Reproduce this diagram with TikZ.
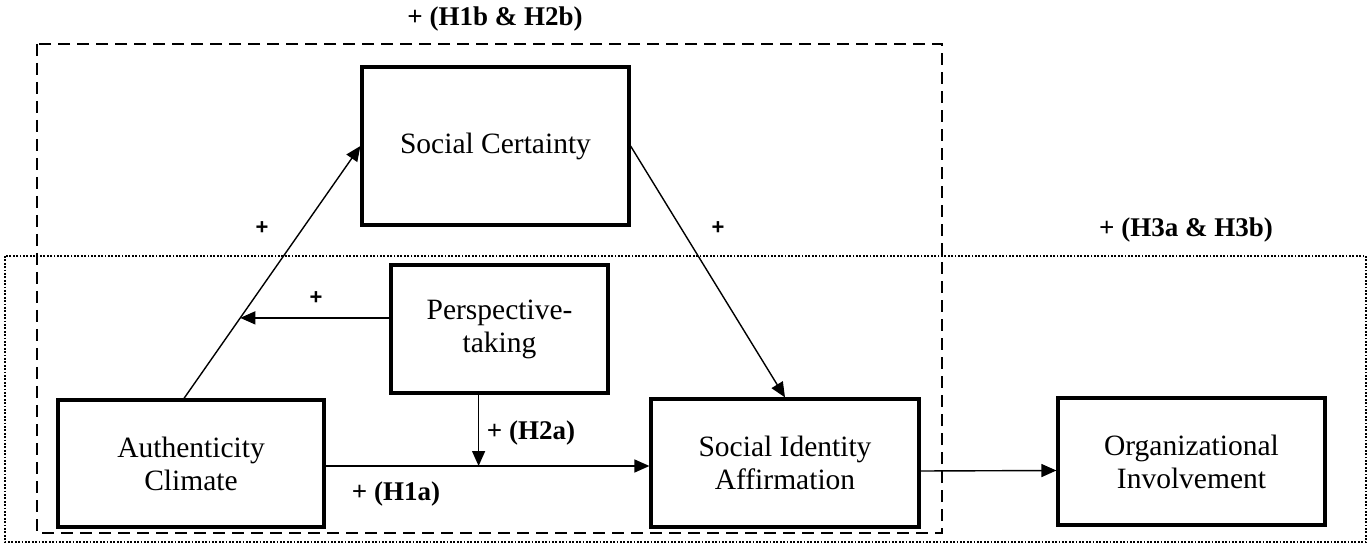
\documentclass[tikz,border=0pt]{standalone}
\usepackage{fontspec}
\setmainfont{Liberation Serif}
\newfontfamily\plusfont{Liberation Sans}
\usetikzlibrary{arrows.meta,calc}
\begin{document}
\begin{tikzpicture}[x=1pt,y=-1pt,
  box/.style={draw,line width=3.2pt,inner sep=0pt,align=center,
    font=\fontsize{29.5}{33}\selectfont},
  lbl/.style={font=\fontsize{27}{30}\selectfont\bfseries,inner sep=0pt},
  plbl/.style={font=\fontsize{22}{24}\selectfont\plusfont\bfseries,inner sep=0pt},
  arr/.style={line width=1.4pt,-{Triangle[length=15pt,width=13pt]}},
  dashbox/.style={line width=2.6pt,dash pattern=on 12pt off 7pt},
  dotbox/.style={line width=2pt,dash pattern=on 1.8pt off 1.6pt}]
\useasboundingbox (0,0) rectangle (1369,545);
% group frames
\draw[dashbox] (37,44) rectangle (942,533);
\draw[dotbox] (5,256) rectangle (1366,542);
% boxes
\node[box,minimum width=267pt,minimum height=158pt] (sc) at (495.5,146) {Social Certainty};
\node[box,minimum width=217pt,minimum height=128pt] (pt) at (499.5,329) {Perspective-\\taking};
\node[box,minimum width=266pt,minimum height=127pt] (auth) at (191,463.5) {Authenticity\\Climate};
\node[box,minimum width=268pt,minimum height=128pt] (sia) at (785,463) {Social Identity\\Affirmation};
\node[box,minimum width=267pt,minimum height=127pt] (oi) at (1191.5,461.5) {Organizational\\Involvement};
% labels
\node[lbl] (l1) at (495,19) {+ (H1b \& H2b)};
\node[plbl] (l2) at (262,228) {+};
\node[plbl] (l3) at (718,228) {+};
\node[lbl] (l4) at (1186,230) {+ (H3a \& H3b)};
\node[plbl] (l5) at (316,298) {+};
\node[lbl] (l6) at (531,433) {+ (H2a)};
\node[lbl] (l7) at (396,494) {+ (H1a)};
% connectors
\coordinate (a0) at ([xshift=-7pt]auth.north);
\draw[arr] (a0) -- (sc.west);
\coordinate (m) at ($(a0)!0.319!(sc.west)$);
\draw[arr] (pt.west |- m) -- (m);
\coordinate (j) at (478.6,466);
\draw[arr] (pt.south -| j) -- (j);
\draw[arr] (auth.east |- j) -- (sia.west |- j);
\draw[arr] (sc.east) -- (sia.north);
\draw[arr] ([yshift=-8pt]sia.east) -- ([yshift=-9pt]oi.west);
\end{tikzpicture}
\end{document}
